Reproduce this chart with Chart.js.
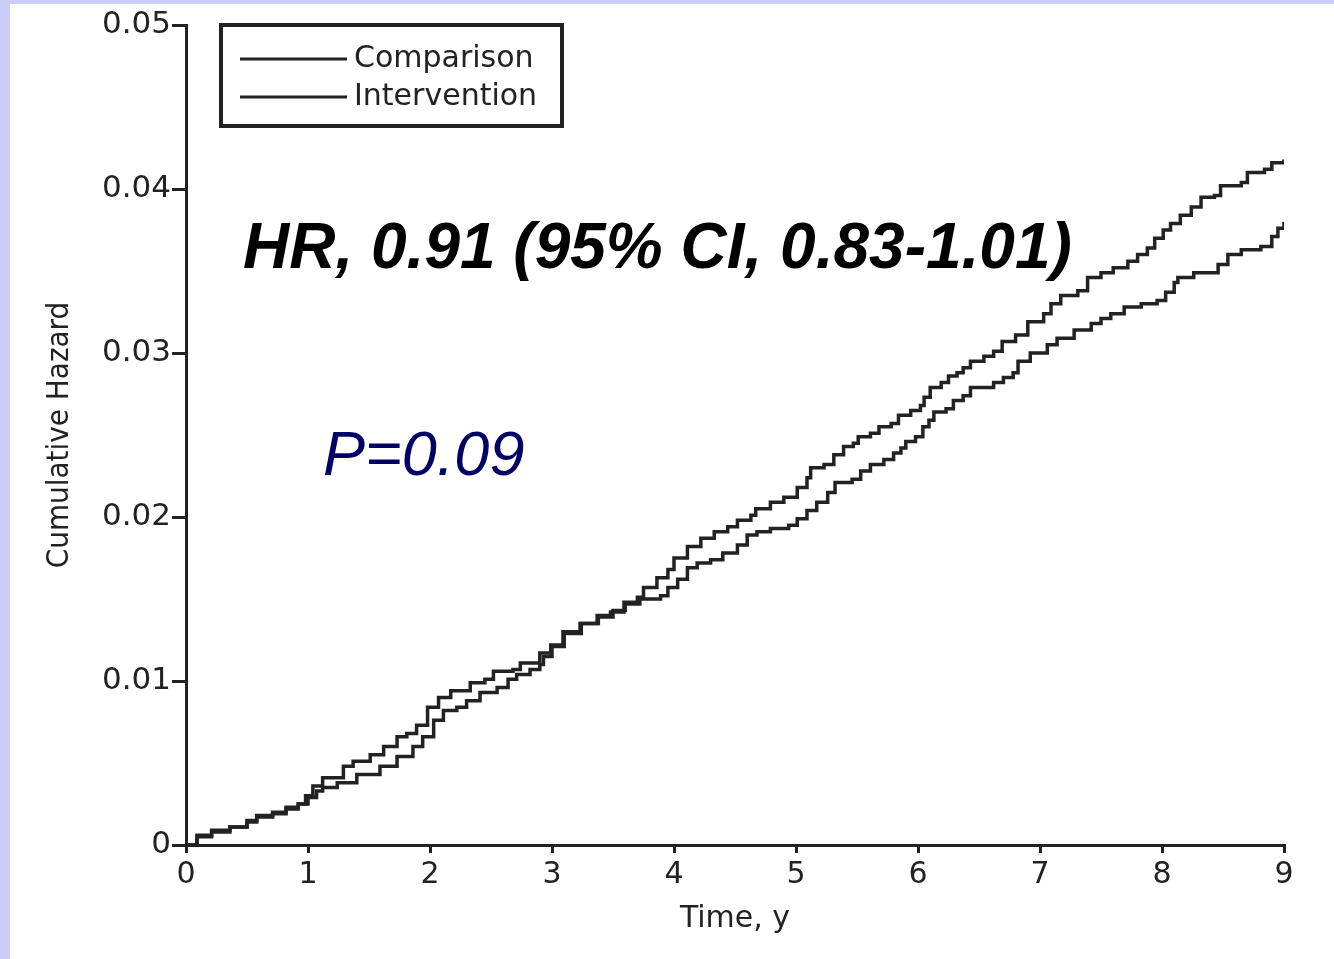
<!DOCTYPE html>
<html>
<head>
<meta charset="utf-8">
<script src="https://cdn.jsdelivr.net/npm/chart.js@4/dist/chart.umd.min.js"></script>
<style>
  html, body { margin: 0; padding: 0; background: #ccccff; }
  #km { position: absolute; left: 10px; top: 4px; background: #fff; }
</style>
</head>
<body>
<canvas id="km" width="1324" height="955"></canvas>
<script>
// cumulative hazard, step points (time in years)
const compTime = [0, 0.09, 0.21, 0.36, 0.5, 0.58, 0.71, 0.82, 0.92, 0.98, 1.04, 1.12, 1.29, 1.37, 1.51, 1.62, 1.73, 1.81, 1.89, 1.98,
  2.07, 2.17, 2.33, 2.45, 2.52, 2.68, 2.74, 2.9, 2.99, 3.09, 3.23, 3.37, 3.48, 3.59, 3.7, 3.75, 3.86, 3.95, 4.0,
  4.11, 4.22, 4.33, 4.44, 4.52, 4.63, 4.67, 4.79, 4.9, 5.01, 5.09, 5.12, 5.23, 5.31, 5.39, 5.47, 5.51, 5.61, 5.68,
  5.78, 5.84, 5.94, 6.02, 6.05, 6.1, 6.19, 6.25, 6.32, 6.37, 6.43, 6.54, 6.62, 6.69, 6.8, 6.9, 7.03, 7.09, 7.17,
  7.31, 7.39, 7.5, 7.6, 7.72, 7.8, 7.88, 7.94, 8.01, 8.07, 8.15, 8.24, 8.32, 8.43, 8.48, 8.65, 8.7, 8.84, 8.9, 9.0];
const compHazard = [0, 0.0006, 0.0009, 0.0011, 0.0015, 0.0018, 0.002, 0.0023, 0.0025, 0.003, 0.0036, 0.0041, 0.0048, 0.0051, 0.0055, 0.006, 0.0066, 0.0068, 0.0073, 0.0084,
  0.009, 0.0094, 0.0099, 0.0101, 0.0106, 0.0107, 0.0111, 0.0117, 0.0122, 0.013, 0.0135, 0.014, 0.0142, 0.0148, 0.0151, 0.0157, 0.0163, 0.0168, 0.0175,
  0.0182, 0.0187, 0.0191, 0.0194, 0.0198, 0.0201, 0.0205, 0.0209, 0.0212, 0.0218, 0.0224, 0.023, 0.0232, 0.0238, 0.0243, 0.0245, 0.0249, 0.0251, 0.0255,
  0.0257, 0.0262, 0.0265, 0.0268, 0.0273, 0.0279, 0.0282, 0.0286, 0.0288, 0.0291, 0.0295, 0.0298, 0.0301, 0.0307, 0.0311, 0.0319, 0.0324, 0.033, 0.0335,
  0.0338, 0.0346, 0.0349, 0.0352, 0.0356, 0.036, 0.0364, 0.037, 0.0375, 0.0379, 0.0384, 0.0389, 0.0395, 0.0396, 0.0402, 0.0404, 0.041, 0.0412, 0.0416, 0.0418];

const intTime = [0, 0.09, 0.21, 0.36, 0.5, 0.58, 0.71, 0.82, 0.92, 1.0, 1.07, 1.12, 1.24, 1.4, 1.59, 1.73, 1.86, 1.94, 2.03, 2.11,
  2.22, 2.3, 2.41, 2.55, 2.64, 2.71, 2.82, 2.9, 2.93, 3.0, 3.1, 3.24, 3.38, 3.5, 3.6, 3.72, 3.89, 3.95, 4.03,
  4.11, 4.19, 4.3, 4.4, 4.52, 4.6, 4.68, 4.79, 4.94, 5.01, 5.09, 5.17, 5.26, 5.32, 5.46, 5.53, 5.61, 5.72, 5.8,
  5.86, 5.9, 5.98, 6.04, 6.09, 6.13, 6.23, 6.29, 6.37, 6.43, 6.62, 6.7, 6.78, 6.82, 6.92, 7.06, 7.14, 7.28, 7.42,
  7.5, 7.58, 7.69, 7.83, 7.96, 8.03, 8.1, 8.13, 8.26, 8.46, 8.54, 8.65, 8.81, 8.9, 8.95, 9.0];
const intHazard = [0, 0.0005, 0.0008, 0.0011, 0.0014, 0.0017, 0.0019, 0.0022, 0.0025, 0.0029, 0.0033, 0.0035, 0.0038, 0.0043, 0.0048, 0.0054, 0.006, 0.0066, 0.0076, 0.0082,
  0.0084, 0.0088, 0.0093, 0.0096, 0.0101, 0.0104, 0.0107, 0.011, 0.0115, 0.0121, 0.0129, 0.0135, 0.0139, 0.0143, 0.0147, 0.015, 0.0152, 0.0157, 0.0162,
  0.0169, 0.0172, 0.0174, 0.0178, 0.0183, 0.0189, 0.0191, 0.0193, 0.0195, 0.0199, 0.0204, 0.0209, 0.0215, 0.0221, 0.0223, 0.0228, 0.0232, 0.0235, 0.0239,
  0.0242, 0.0246, 0.0249, 0.0255, 0.0259, 0.0264, 0.0266, 0.0271, 0.0274, 0.0279, 0.0282, 0.0285, 0.0288, 0.0295, 0.03, 0.0305, 0.0309, 0.0314, 0.0318,
  0.0321, 0.0324, 0.0328, 0.033, 0.0332, 0.0337, 0.0343, 0.0346, 0.0349, 0.0354, 0.036, 0.0363, 0.0365, 0.0371, 0.0376, 0.038];

const seriesNames = ['Comparison', 'Intervention'];
const xTicks = [0, 1, 2, 3, 4, 5, 6, 7, 8, 9];
const yTicks = [0, 0.01, 0.02, 0.03, 0.04, 0.05];
const hrText = 'HR, 0.91 (95% CI, 0.83-1.01)';
const pText = 'P=0.09';

const ink = '#222';

function pts(t, v) {
  return t.map((x, i) => ({ x: x, y: v[i] }));
}

// legend box + the two big annotations
const notes = {
  id: 'notes',
  afterDatasetsDraw(chart) {
    const ctx = chart.ctx;
    const a = chart.chartArea;
    ctx.save();
    // legend box
    const bx = a.left + 35, by = a.top;
    ctx.strokeStyle = ink;
    ctx.lineWidth = 4;
    ctx.strokeRect(bx, by, 341, 101);
    ctx.font = '30px "DejaVu Sans"';
    ctx.textBaseline = 'middle';
    ctx.fillStyle = ink;
    chart.data.datasets.forEach((ds, i) => {
      const y = by + 34 + i * 38;
      ctx.lineWidth = 3;
      ctx.beginPath();
      ctx.moveTo(bx + 19, y);
      ctx.lineTo(bx + 126, y);
      ctx.stroke();
      ctx.fillText(ds.label, bx + 133, y);
    });
    // HR and P
    ctx.textBaseline = 'alphabetic';
    ctx.fillStyle = '#000';
    ctx.font = 'italic bold 64px "Liberation Sans"';
    ctx.fillText(hrText, a.left + 57, 264);
    ctx.fillStyle = '#000066';
    ctx.font = 'italic 63px "Liberation Sans"';
    ctx.fillText(pText, a.left + 137, 471);
    ctx.restore();
  }
};

new Chart('km', {
  type: 'line',
  data: {
    datasets: [{
      label: seriesNames[0],
      data: pts(compTime, compHazard),
      borderColor: ink,
      borderWidth: 3.5,
      pointRadius: 0,
      stepped: true,
      fill: false
    }, {
      label: seriesNames[1],
      data: pts(intTime, intHazard),
      borderColor: ink,
      borderWidth: 3.5,
      pointRadius: 0,
      stepped: true,
      fill: false
    }]
  },
  options: {
    responsive: false,
    animation: false,
    layout: { padding: { left: 0, top: 21, right: 50, bottom: 0 } },
    plugins: {
      legend: { display: false },
      tooltip: { enabled: false }
    },
    scales: {
      x: {
        type: 'linear',
        min: 0,
        max: 9,
        afterFit(scale) { scale.height = 114; },
        afterBuildTicks(scale) { scale.ticks = xTicks.map(v => ({ value: v })); },
        border: { display: true, color: ink, width: 3 },
        grid: { drawOnChartArea: false, drawTicks: true, tickLength: 8, color: ink, lineWidth: 3 },
        ticks: { color: ink, padding: 4, maxRotation: 0, font: { family: 'DejaVu Sans', size: 30 } },
        title: {
          display: true,
          text: 'Time, y',
          color: ink,
          font: { family: 'DejaVu Sans', size: 30 },
          padding: { top: 0, bottom: 22 }
        }
      },
      y: {
        min: 0,
        max: 0.05,
        afterFit(scale) { scale.width = 176; },
        afterBuildTicks(scale) { scale.ticks = yTicks.map(v => ({ value: v })); },
        border: { display: true, color: ink, width: 3 },
        grid: { drawOnChartArea: false, drawTicks: true, tickLength: 14, color: ink, lineWidth: 3 },
        ticks: {
          color: ink,
          padding: 1,
          font: { family: 'DejaVu Sans', size: 31 },
          callback: v => (v === 0 ? '0' : v.toFixed(2))
        },
        title: {
          display: true,
          text: 'Cumulative Hazard',
          color: ink,
          font: { family: '"Liberation Sans Narrow", "DejaVu Sans Condensed", "Liberation Sans"', size: 31 },
          padding: { top: 31, bottom: 0 }
        }
      }
    }
  },
  plugins: [notes]
});
</script>
</body>
</html>
